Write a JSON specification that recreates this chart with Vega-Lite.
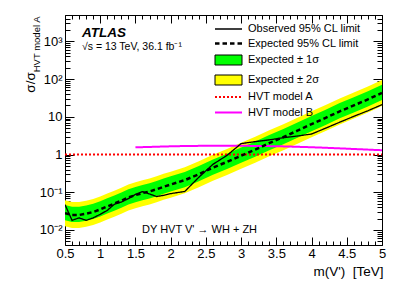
{
  "$schema": "https://vega.github.io/schema/vega-lite/v6.json",
  "width": 317,
  "height": 230,
  "autosize": "none",
  "padding": {"left": 65, "top": 15, "right": 21, "bottom": 47},
  "background": "white",
  "config": {
    "font": "Liberation Sans",
    "view": {"stroke": "black", "strokeWidth": 1},
    "axis": {"grid": false, "domain": false, "tickColor": "black", "tickWidth": 1, "labelColor": "black", "titleColor": "black", "labelFont": "Liberation Sans", "titleFont": "Liberation Sans", "labelFontSize": 13, "titleFontWeight": "normal"},
    "legend": {"labelFont": "Liberation Sans", "labelColor": "black", "labelFontSize": 11, "labelLimit": 300, "padding": 0}
  },
  "datasets": {
    "limits": [
      {"m": 0.5, "obs": 0.047, "exp": 0.028, "m2": 0.0126, "m1": 0.0182, "p1": 0.0462, "p2": 0.0616},
      {"m": 0.6, "obs": 0.018, "exp": 0.025, "m2": 0.0113, "m1": 0.0163, "p1": 0.0413, "p2": 0.055},
      {"m": 0.7, "obs": 0.021, "exp": 0.025, "m2": 0.0113, "m1": 0.0163, "p1": 0.0413, "p2": 0.055},
      {"m": 0.8, "obs": 0.018, "exp": 0.027, "m2": 0.0122, "m1": 0.0176, "p1": 0.0446, "p2": 0.0594},
      {"m": 0.9, "obs": 0.021, "exp": 0.03, "m2": 0.0135, "m1": 0.0195, "p1": 0.0495, "p2": 0.066},
      {"m": 1.0, "obs": 0.026, "exp": 0.035, "m2": 0.0158, "m1": 0.0228, "p1": 0.0578, "p2": 0.077},
      {"m": 1.1, "obs": 0.033, "exp": 0.042, "m2": 0.0189, "m1": 0.0273, "p1": 0.0693, "p2": 0.0924},
      {"m": 1.2, "obs": 0.048, "exp": 0.05, "m2": 0.0225, "m1": 0.0325, "p1": 0.0825, "p2": 0.11},
      {"m": 1.3, "obs": 0.055, "exp": 0.06, "m2": 0.027, "m1": 0.039, "p1": 0.099, "p2": 0.132},
      {"m": 1.4, "obs": 0.068, "exp": 0.073, "m2": 0.0329, "m1": 0.0475, "p1": 0.1205, "p2": 0.1606},
      {"m": 1.5, "obs": 0.088, "exp": 0.084, "m2": 0.0378, "m1": 0.0546, "p1": 0.1386, "p2": 0.1848},
      {"m": 1.6, "obs": 0.104, "exp": 0.095, "m2": 0.0428, "m1": 0.0618, "p1": 0.1568, "p2": 0.209},
      {"m": 1.7, "obs": 0.09, "exp": 0.105, "m2": 0.0473, "m1": 0.0683, "p1": 0.1733, "p2": 0.231},
      {"m": 1.8, "obs": 0.077, "exp": 0.12, "m2": 0.054, "m1": 0.078, "p1": 0.198, "p2": 0.264},
      {"m": 1.9, "obs": 0.083, "exp": 0.14, "m2": 0.063, "m1": 0.091, "p1": 0.231, "p2": 0.308},
      {"m": 2.0, "obs": 0.092, "exp": 0.16, "m2": 0.072, "m1": 0.104, "p1": 0.264, "p2": 0.352},
      {"m": 2.2, "obs": 0.105, "exp": 0.21, "m2": 0.0945, "m1": 0.1365, "p1": 0.3465, "p2": 0.462},
      {"m": 2.4, "obs": 0.25, "exp": 0.3, "m2": 0.135, "m1": 0.195, "p1": 0.495, "p2": 0.66},
      {"m": 2.6, "obs": 0.55, "exp": 0.45, "m2": 0.2025, "m1": 0.2925, "p1": 0.7425, "p2": 0.99},
      {"m": 2.8, "obs": 0.95, "exp": 0.64, "m2": 0.288, "m1": 0.416, "p1": 1.056, "p2": 1.408},
      {"m": 3.0, "obs": 1.95, "exp": 0.93, "m2": 0.4185, "m1": 0.6045, "p1": 1.5345, "p2": 2.046},
      {"m": 3.2, "obs": 2.2, "exp": 1.35, "m2": 0.6075, "m1": 0.8775, "p1": 2.2275, "p2": 2.97},
      {"m": 3.4, "obs": 2.45, "exp": 2.0, "m2": 0.9, "m1": 1.3, "p1": 3.3, "p2": 4.4},
      {"m": 3.6, "obs": 2.8, "exp": 2.9, "m2": 1.305, "m1": 1.885, "p1": 4.785, "p2": 6.38},
      {"m": 3.8, "obs": 3.1, "exp": 4.3, "m2": 1.935, "m1": 2.795, "p1": 7.095, "p2": 9.46},
      {"m": 4.0, "obs": 3.5, "exp": 6.4, "m2": 2.88, "m1": 4.16, "p1": 10.56, "p2": 14.08},
      {"m": 4.2, "obs": 5.0, "exp": 9.4, "m2": 4.23, "m1": 6.11, "p1": 15.51, "p2": 20.68},
      {"m": 4.4, "obs": 7.2, "exp": 14, "m2": 6.3, "m1": 9.1, "p1": 23.1, "p2": 30.8},
      {"m": 4.6, "obs": 10.3, "exp": 20, "m2": 9, "m1": 13, "p1": 33, "p2": 44},
      {"m": 4.8, "obs": 14.5, "exp": 29, "m2": 13.05, "m1": 18.85, "p1": 47.85, "p2": 63.8},
      {"m": 5.0, "obs": 21, "exp": 43, "m2": 19.35, "m1": 27.95, "p1": 70.95, "p2": 94.6}
    ],
    "hvt": [
      {"m": 0.5, "xs": 1, "model": "HVT model A"},
      {"m": 5.0, "xs": 1, "model": "HVT model A"},
      {"m": 1.5, "xs": 1.55, "model": "HVT model B"},
      {"m": 1.75, "xs": 1.6, "model": "HVT model B"},
      {"m": 2.0, "xs": 1.65, "model": "HVT model B"},
      {"m": 2.5, "xs": 1.7, "model": "HVT model B"},
      {"m": 3.0, "xs": 1.7, "model": "HVT model B"},
      {"m": 3.5, "xs": 1.66, "model": "HVT model B"},
      {"m": 4.0, "xs": 1.56, "model": "HVT model B"},
      {"m": 4.5, "xs": 1.43, "model": "HVT model B"},
      {"m": 5.0, "xs": 1.3, "model": "HVT model B"}
    ]
  },
  "resolve": {
    "axis": {"x": "independent", "y": "independent"},
    "scale": {"color": "independent", "stroke": "independent", "strokeDash": "independent", "strokeWidth": "independent"}
  },
  "layer": [
    {
      "data": {"name": "limits"},
      "mark": {"type": "area", "opacity": 1, "clip": true},
      "encoding": {
        "x": {
          "field": "m", "type": "quantitative",
          "scale": {"type": "linear", "domain": [0.5, 5], "nice": false, "zero": false},
          "axis": {"orient": "bottom", "values": [0.5, 1, 1.5, 2, 2.5, 3, 3.5, 4, 4.5, 5], "tickSize": -8, "labelPadding": 10, "format": "~g", "labelFlush": false,
                   "title": "m(V')\u00a0\u00a0[TeV]", "titleFontSize": 13.5, "titleAlign": "right", "titleAnchor": "end", "titleX": 318, "titleY": 30, "titleBaseline": "alphabetic"}
        },
        "y": {
          "field": "m2", "type": "quantitative",
          "scale": {"type": "log", "domain": [0.004, 5000], "nice": false},
          "axis": {"orient": "left", "values": [0.01, 0.1, 1, 10, 100, 1000], "tickSize": -9, "labelPadding": 12,
                   "labelExpr": "datum.value >= 999 ? '10³' : datum.value >= 99 ? '10²' : datum.value >= 9 ? '10' : datum.value >= 0.9 ? '1' : datum.value >= 0.09 ? '10⁻¹' : '10⁻²'",
                   "title": "σ/σ", "titleFontSize": 13.5, "titleAngle": -90, "titleX": -35, "titleY": 67, "titleAlign": "center", "titleBaseline": "middle"}
        },
        "y2": {"field": "p2"},
        "fill": {
          "datum": "Expected ± 2σ",
          "scale": {"domain": ["Expected ± 1σ", "Expected ± 2σ"], "range": ["#00ff00", "#ffff00"]},
          "legend": {"orient": "none", "legendX": 158, "legendY": 39.5, "title": null, "labelOffset": 14, "rowPadding": 5, "symbolSize": 100,
                     "symbolType": "M-2.7,-1H2.7V1H-2.7Z", "symbolStrokeColor": "black", "symbolStrokeWidth": 1, "symbolOpacity": 1}
        }
      }
    },
    {
      "data": {"name": "limits"},
      "mark": {"type": "area", "opacity": 1, "clip": true},
      "encoding": {
        "x": {"field": "m", "type": "quantitative",
              "axis": {"orient": "bottom", "values": [0.6, 0.7, 0.8, 0.9, 1.1, 1.2, 1.3, 1.4, 1.6, 1.7, 1.8, 1.9, 2.1, 2.2, 2.3, 2.4, 2.6, 2.7, 2.8, 2.9, 3.1, 3.2, 3.3, 3.4, 3.6, 3.7, 3.8, 3.9, 4.1, 4.2, 4.3, 4.4, 4.6, 4.7, 4.8, 4.9], "tickSize": -4, "labels": false, "title": null}},
        "y": {"field": "m1", "type": "quantitative",
              "axis": {"orient": "left", "values": [0.004, 0.005, 0.006, 0.007, 0.008, 0.009, 0.02, 0.03, 0.04, 0.05, 0.06, 0.07, 0.08, 0.09, 0.2, 0.3, 0.4, 0.5, 0.6, 0.7, 0.8, 0.9, 2, 3, 4, 5, 6, 7, 8, 9, 20, 30, 40, 50, 60, 70, 80, 90, 200, 300, 400, 500, 600, 700, 800, 900, 2000, 3000, 4000, 5000], "tickSize": -5, "labels": false,
                       "title": "HVT model A", "titleFontSize": 9.5, "titleAngle": -90, "titleX": -29, "titleY": 1, "titleAlign": "right", "titleBaseline": "middle"}},
        "y2": {"field": "p1"},
        "fill": {"datum": "Expected ± 1σ"}
      }
    },
    {
      "data": {"name": "hvt"},
      "mark": {"type": "line", "strokeWidth": 2, "interpolate": "monotone", "clip": true},
      "encoding": {
        "x": {"field": "m", "type": "quantitative",
              "axis": {"orient": "top", "values": [0.6, 0.7, 0.8, 0.9, 1.1, 1.2, 1.3, 1.4, 1.6, 1.7, 1.8, 1.9, 2.1, 2.2, 2.3, 2.4, 2.6, 2.7, 2.8, 2.9, 3.1, 3.2, 3.3, 3.4, 3.6, 3.7, 3.8, 3.9, 4.1, 4.2, 4.3, 4.4, 4.6, 4.7, 4.8, 4.9], "tickSize": -4, "labels": false, "title": null}},
        "y": {"field": "xs", "type": "quantitative",
              "axis": {"orient": "right", "values": [0.004, 0.005, 0.006, 0.007, 0.008, 0.009, 0.02, 0.03, 0.04, 0.05, 0.06, 0.07, 0.08, 0.09, 0.2, 0.3, 0.4, 0.5, 0.6, 0.7, 0.8, 0.9, 2, 3, 4, 5, 6, 7, 8, 9, 20, 30, 40, 50, 60, 70, 80, 90, 200, 300, 400, 500, 600, 700, 800, 900, 2000, 3000, 4000, 5000], "tickSize": -5, "labels": false, "title": null}},
        "stroke": {
          "field": "model", "type": "nominal",
          "scale": {"domain": ["HVT model A", "HVT model B"], "range": ["#ff0000", "#ff00ff"]},
          "legend": {"orient": "none", "legendX": 157.5, "legendY": 76, "title": null, "labelOffset": 13.5, "rowPadding": 4.5, "symbolSize": 100,
                     "symbolType": "M-2.7,0H2.7", "symbolStrokeWidth": 2}
        },
        "strokeDash": {
          "field": "model", "type": "nominal",
          "scale": {"domain": ["HVT model A", "HVT model B"], "range": [[2, 2], [1, 0]]},
          "legend": {"title": null}
        }
      }
    },
    {
      "data": {"name": "limits"},
      "transform": [{"fold": ["obs", "exp"], "as": ["key", "val"]}],
      "mark": {"type": "line", "clip": true},
      "encoding": {
        "x": {"field": "m", "type": "quantitative",
              "axis": {"orient": "top", "values": [0.5, 1, 1.5, 2, 2.5, 3, 3.5, 4, 4.5, 5], "tickSize": -8, "labels": false, "title": null}},
        "y": {"field": "val", "type": "quantitative",
              "axis": {"orient": "right", "values": [0.01, 0.1, 1, 10, 100, 1000], "tickSize": -9, "labels": false, "title": null}},
        "color": {
          "field": "key", "type": "nominal",
          "scale": {"domain": ["obs", "exp"], "range": ["black", "black"]},
          "legend": {"orient": "none", "legendX": 157, "legendY": 8, "title": null, "labelOffset": 13, "rowPadding": 3, "symbolSize": 100,
                     "symbolType": "M-2.7,0H2.7",
                     "labelExpr": "datum.label == 'obs' ? 'Observed 95% CL limit' : 'Expected 95% CL limit'"}
        },
        "strokeDash": {
          "field": "key", "type": "nominal",
          "scale": {"domain": ["obs", "exp"], "range": [[1, 0], [4.5, 3]]},
          "legend": {"title": null}
        },
        "strokeWidth": {
          "field": "key", "type": "nominal",
          "scale": {"domain": ["obs", "exp"], "range": [1.3, 2.5]},
          "legend": {"title": null}
        }
      }
    },
    {
      "data": {"values": [{}]},
      "mark": {"type": "text", "text": "ATLAS", "fontSize": 13.5, "fontWeight": "bold", "fontStyle": "italic", "align": "left", "baseline": "middle", "color": "black"},
      "encoding": {
        "x": {"datum": 0.741, "type": "quantitative", "axis": null},
        "y": {"datum": 1667, "type": "quantitative", "axis": null}
      }
    },
    {
      "data": {"values": [{}]},
      "mark": {"type": "text", "text": "√s = 13 TeV, 36.1 fb⁻¹", "fontSize": 10.5, "align": "left", "baseline": "middle", "color": "black"},
      "encoding": {
        "x": {"datum": 0.741, "type": "quantitative", "axis": null},
        "y": {"datum": 710, "type": "quantitative", "axis": null}
      }
    },
    {
      "data": {"values": [{}]},
      "mark": {"type": "text", "text": "DY HVT V' → WH + ZH", "fontSize": 11, "align": "left", "baseline": "middle", "color": "black"},
      "encoding": {
        "x": {"datum": 1.593, "type": "quantitative", "axis": null},
        "y": {"datum": 0.01, "type": "quantitative", "axis": null}
      }
    }
  ]
}
